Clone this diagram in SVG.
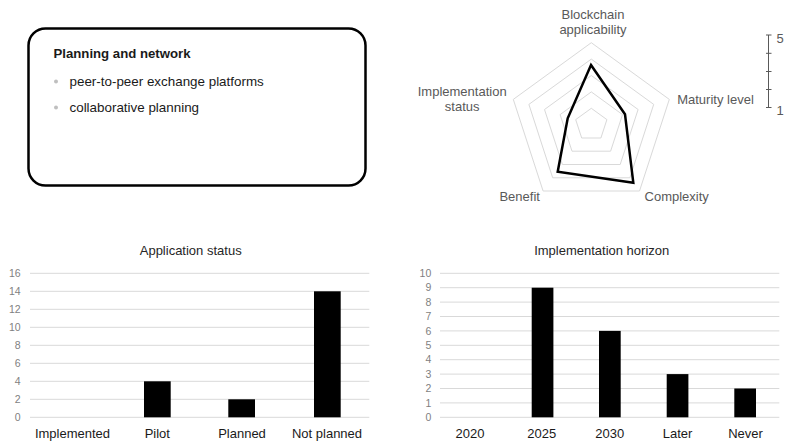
<svg xmlns="http://www.w3.org/2000/svg" width="785" height="441" viewBox="0 0 785 441">
<style>
text { font-family: "Liberation Sans", Arial, sans-serif; }
.lbl { font-size: 13px; fill: #595959; }
.title { font-size: 13px; fill: #262626; text-anchor: middle; }
.xl { font-size: 13px; fill: #1a1a1a; text-anchor: middle; }
.yl { font-size: 10.5px; fill: #7f7f7f; text-anchor: end; }
.grid { stroke: #d9d9d9; stroke-width: 1; fill: none; }
.ring { stroke: #d9d9d9; stroke-width: 1; fill: none; }
.bar { fill: #000; }
.body { font-size: 13.4px; fill: #1a1a1a; }
</style>
<rect width="785" height="441" fill="#fff"/>

<g id="info-box">
  <rect x="28.5" y="28.5" width="337" height="157" rx="17" ry="17" fill="#fff" stroke="#000" stroke-width="2.5"/>
  <text x="53.5" y="57.5" style="font-size:13.2px;font-weight:bold;fill:#1a1a1a">Planning and network</text>
  <circle cx="56" cy="81.5" r="2" fill="#bfbfbf"/>
  <text class="body" x="69.5" y="86">peer-to-peer exchange platforms</text>
  <circle cx="56" cy="107.5" r="2" fill="#bfbfbf"/>
  <text class="body" x="69.5" y="112">collaborative planning</text>
</g>

<g id="radar">
  <polygon class="ring" points="591.3,42.7 669.3,99.4 639.5,191.0 543.1,191.0 513.3,99.4"/>
  <polygon class="ring" points="591.3,59.1 653.7,104.4 629.9,177.8 552.7,177.8 528.9,104.4"/>
  <polygon class="ring" points="591.3,75.5 638.1,109.5 620.2,164.5 562.4,164.5 544.5,109.5"/>
  <polygon class="ring" points="591.3,91.9 622.5,114.6 610.6,151.2 572.0,151.2 560.1,114.6"/>
  <polygon class="ring" points="591.3,108.3 606.9,119.6 600.9,138.0 581.7,138.0 575.7,119.6"/>
  <polygon points="591,65 625,114.3 633.3,182.7 557.7,171.7 567.7,118.3" fill="none" stroke="#000" stroke-width="2.5" stroke-linejoin="miter"/>
  <text class="lbl" x="593" y="19" text-anchor="middle">Blockchain</text>
  <text class="lbl" x="593" y="34" text-anchor="middle">applicability</text>
  <text class="lbl" x="715.5" y="103.5" text-anchor="middle">Maturity level</text>
  <text class="lbl" x="676.7" y="201" text-anchor="middle">Complexity</text>
  <text class="lbl" x="519.7" y="201" text-anchor="middle">Benefit</text>
  <text class="lbl" x="462.2" y="96" text-anchor="middle">Implementation</text>
  <text class="lbl" x="462.2" y="111" text-anchor="middle">status</text>
</g>

<g id="scale">
  <line x1="768.5" y1="35" x2="768.5" y2="107.5" stroke="#595959" stroke-width="1"/>
  <g stroke="#595959" stroke-width="1">
    <line x1="766" y1="35" x2="771.5" y2="35"/>
    <line x1="766" y1="53.3" x2="771.5" y2="53.3"/>
    <line x1="766" y1="71.5" x2="771.5" y2="71.5"/>
    <line x1="766" y1="89.5" x2="771.5" y2="89.5"/>
    <line x1="766" y1="107.5" x2="771.5" y2="107.5"/>
  </g>
  <text class="lbl" x="776.5" y="43">5</text>
  <text class="lbl" x="776.5" y="114.5">1</text>
</g>

<g id="chart-application-status">
  <text class="title" x="190.7" y="254.5">Application status</text>
  <g class="grid">
    <line x1="30" y1="273.3" x2="369.3" y2="273.3"/>
    <line x1="30" y1="291.3" x2="369.3" y2="291.3"/>
    <line x1="30" y1="309.3" x2="369.3" y2="309.3"/>
    <line x1="30" y1="327.3" x2="369.3" y2="327.3"/>
    <line x1="30" y1="345.3" x2="369.3" y2="345.3"/>
    <line x1="30" y1="363.3" x2="369.3" y2="363.3"/>
    <line x1="30" y1="381.3" x2="369.3" y2="381.3"/>
    <line x1="30" y1="399.3" x2="369.3" y2="399.3"/>
    <line x1="30" y1="417.3" x2="369.3" y2="417.3"/>
  </g>
  <g>
    <text class="yl" x="20.7" y="277">16</text>
    <text class="yl" x="20.7" y="295">14</text>
    <text class="yl" x="20.7" y="313">12</text>
    <text class="yl" x="20.7" y="331">10</text>
    <text class="yl" x="20.7" y="349">8</text>
    <text class="yl" x="20.7" y="367">6</text>
    <text class="yl" x="20.7" y="385">4</text>
    <text class="yl" x="20.7" y="403">2</text>
    <text class="yl" x="20.7" y="421">0</text>
  </g>
  <rect class="bar" x="144" y="381.3" width="26.7" height="36"/>
  <rect class="bar" x="228.3" y="399.3" width="26.7" height="18"/>
  <rect class="bar" x="314" y="291.3" width="26.7" height="126"/>
  <text class="xl" x="72.5" y="438">Implemented</text>
  <text class="xl" x="157.3" y="438">Pilot</text>
  <text class="xl" x="242" y="438">Planned</text>
  <text class="xl" x="327" y="438">Not planned</text>
</g>

<g id="chart-implementation-horizon">
  <text class="title" x="601.7" y="254.5">Implementation horizon</text>
  <g class="grid">
    <line x1="440" y1="273.3" x2="779.3" y2="273.3"/>
    <line x1="440" y1="287.7" x2="779.3" y2="287.7"/>
    <line x1="440" y1="302.1" x2="779.3" y2="302.1"/>
    <line x1="440" y1="316.5" x2="779.3" y2="316.5"/>
    <line x1="440" y1="330.9" x2="779.3" y2="330.9"/>
    <line x1="440" y1="345.3" x2="779.3" y2="345.3"/>
    <line x1="440" y1="359.7" x2="779.3" y2="359.7"/>
    <line x1="440" y1="374.1" x2="779.3" y2="374.1"/>
    <line x1="440" y1="388.5" x2="779.3" y2="388.5"/>
    <line x1="440" y1="402.9" x2="779.3" y2="402.9"/>
    <line x1="440" y1="417.3" x2="779.3" y2="417.3"/>
  </g>
  <g>
    <text class="yl" x="431.3" y="277">10</text>
    <text class="yl" x="431.3" y="291.4">9</text>
    <text class="yl" x="431.3" y="305.8">8</text>
    <text class="yl" x="431.3" y="320.2">7</text>
    <text class="yl" x="431.3" y="334.6">6</text>
    <text class="yl" x="431.3" y="349">5</text>
    <text class="yl" x="431.3" y="363.4">4</text>
    <text class="yl" x="431.3" y="377.8">3</text>
    <text class="yl" x="431.3" y="392.2">2</text>
    <text class="yl" x="431.3" y="406.6">1</text>
    <text class="yl" x="431.3" y="421">0</text>
  </g>
  <rect class="bar" x="531.7" y="287.7" width="21.7" height="129.6"/>
  <rect class="bar" x="599" y="330.9" width="21.7" height="86.4"/>
  <rect class="bar" x="666.7" y="374.1" width="21.7" height="43.2"/>
  <rect class="bar" x="734.3" y="388.5" width="21.7" height="28.8"/>
  <text class="xl" x="470" y="438">2020</text>
  <text class="xl" x="541.8" y="438">2025</text>
  <text class="xl" x="609.7" y="438">2030</text>
  <text class="xl" x="677.6" y="438">Later</text>
  <text class="xl" x="745.5" y="438">Never</text>
</g>
</svg>
